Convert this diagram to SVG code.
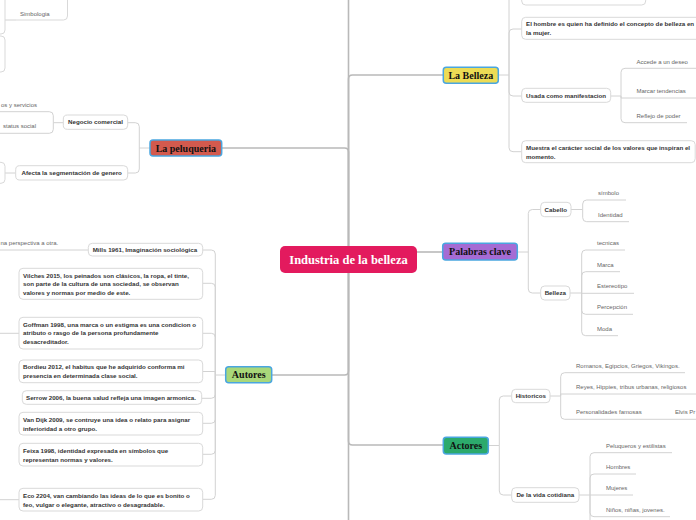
<svg xmlns="http://www.w3.org/2000/svg" width="696" height="520" viewBox="0 0 696 520">
<style>
.c1{fill:none;stroke:#b9b9b9;stroke-width:1.6}
.c2{fill:none;stroke:#d2d2d2;stroke-width:1}
.box{fill:#fff;stroke:#d9d9d9;stroke-width:1}
.topic{stroke:#4aa6e0;stroke-width:1.5}
.tt{font-family:"Liberation Serif",serif;font-weight:bold;font-size:10px;fill:#111;text-anchor:middle}
.bt{font-family:"Liberation Sans",Arial,sans-serif;font-weight:bold;font-size:6.2px;fill:#333}
.btm{font-family:"Liberation Sans",Arial,sans-serif;font-weight:bold;font-size:6.2px;fill:#333;text-anchor:middle}
.lt{font-family:"Liberation Sans",Arial,sans-serif;font-size:6px;fill:#666}
.lte{font-family:"Liberation Sans",Arial,sans-serif;font-size:6px;fill:#666;text-anchor:end}
</style>
<rect width="696" height="520" fill="#fff"/>
<g id="connectors">
<path class="c1" d="M348.5,0 V246 M348.5,273 V520"/>
<path class="c1" d="M348.5,246 V79 Q348.5,75 352.5,75 H443.3"/>
<path class="c1" d="M348.5,273 V441 Q348.5,445 352.5,445 H443.3"/>
<path class="c1" d="M348.5,273 V371 Q348.5,375 344.5,375 H271.7"/>
<path class="c1" d="M348.5,246 V152 Q348.5,148 344.5,148 H221.7"/>
<path class="c1" d="M417,252 H442.7"/>
<!-- La Belleza -->
<path class="c2" d="M498.3,75 H509 M509,75 V0"/>
<path class="c2" d="M509,75 V33 Q509,29 513,29 H521.7"/>
<path class="c2" d="M509,75 V92 Q509,96 513,96 H521.7"/>
<path class="c2" d="M509,75 V147.7 Q509,151.7 513,151.7 H521.7"/>
<path class="c2" d="M610.7,96 H621"/>
<path class="c2" d="M621,96 V72.3 Q621,68.3 625,68.3 H700"/>
<path class="c2" d="M621,96 V98 H700"/>
<path class="c2" d="M621,96 V118.7 Q621,122.7 625,122.7 H687"/>
<!-- Palabras clave -->
<path class="c2" d="M517.3,252 H528.3"/>
<path class="c2" d="M528.3,252 V213.5 Q528.3,209.5 532.3,209.5 H540.7"/>
<path class="c2" d="M528.3,252 V289 Q528.3,293 532.3,293 H540.7"/>
<path class="c2" d="M571,209.5 H582.7"/>
<path class="c2" d="M582.7,209.5 V204 Q582.7,200 586.7,200 H626"/>
<path class="c2" d="M582.7,209.5 V217.7 Q582.7,221.7 586.7,221.7 H629"/>
<path class="c2" d="M570,293 H581.7"/>
<path class="c2" d="M581.7,293 V254 Q581.7,250 585.7,250 H625"/>
<path class="c2" d="M581.7,293 V275.7 Q581.7,271.7 585.7,271.7 H620"/>
<path class="c2" d="M581.7,293.3 H634"/>
<path class="c2" d="M581.7,293 V310.3 Q581.7,314.3 585.7,314.3 H633"/>
<path class="c2" d="M581.7,293 V331.7 Q581.7,335.7 585.7,335.7 H618"/>
<!-- Actores -->
<path class="c2" d="M488.3,445.5 H499.3"/>
<path class="c2" d="M499.3,445.5 V400 Q499.3,396 503.3,396 H511.7"/>
<path class="c2" d="M499.3,445.5 V491 Q499.3,495 503.3,495 H511.7"/>
<path class="c2" d="M550,396 H560.7"/>
<path class="c2" d="M560.7,396 V376.7 Q560.7,372.7 564.7,372.7 H685"/>
<path class="c2" d="M560.7,396 V394 H700"/>
<path class="c2" d="M560.7,396 V415.3 Q560.7,419.3 564.7,419.3 H700"/>
<path class="c2" d="M579,495 H590"/>
<path class="c2" d="M590,495 V456.7 Q590,452.7 594,452.7 H672"/>
<path class="c2" d="M590,495 V478 Q590,474 594,474 H636"/>
<path class="c2" d="M590,495 H633"/>
<path class="c2" d="M590,495 V512.7 Q590,516.7 594,516.7 H670"/>
<path class="c2" d="M590,495 V520"/>
<!-- Autores -->
<path class="c2" d="M225.7,375 H215.3"/>
<path class="c2" d="M215.3,375 V254 Q215.3,250 211.3,250 H202.7"/>
<path class="c2" d="M215.3,375 V287.3 Q215.3,283.3 211.3,283.3 H202.7"/>
<path class="c2" d="M215.3,375 V337.3 Q215.3,333.3 211.3,333.3 H202.7"/>
<path class="c2" d="M215.3,375 V371.5 H202.7"/>
<path class="c2" d="M215.3,375 V394.3 Q215.3,398.3 211.3,398.3 H201.7"/>
<path class="c2" d="M215.3,375 V419.3 Q215.3,423.3 211.3,423.3 H202.7"/>
<path class="c2" d="M215.3,375 V450.3 Q215.3,454.3 211.3,454.3 H202.7"/>
<path class="c2" d="M215.3,375 V495.3 Q215.3,499.3 211.3,499.3 H202.7"/>
<path class="c2" d="M88.3,250 H0"/>
<path class="c2" d="M19,333.3 H0"/>
<path class="c2" d="M19,499.7 H0"/>
<!-- La peluqueria -->
<path class="c2" d="M150,148 H139.3"/>
<path class="c2" d="M139.3,148 V126.7 Q139.3,122.7 135.3,122.7 H127.7"/>
<path class="c2" d="M139.3,148 V169 Q139.3,173 135.3,173 H127.7"/>
<path class="c2" d="M63.3,122.7 H53.3"/>
<path class="c2" d="M53.3,122.7 V115.7 Q53.3,111.7 49.3,111.7 H0"/>
<path class="c2" d="M53.3,122.7 V129.3 Q53.3,133.3 49.3,133.3 H0"/>
<path class="c2" d="M15.7,173 H5"/>
<path class="c2" d="M5,20 H16"/>
</g>
<g id="center">
<rect x="280" y="246" width="137" height="27" rx="5" fill="#E31A5E"/>
<text x="348.5" y="263.8" font-family="Liberation Serif, serif" font-weight="bold" font-size="12.5" fill="#fff" text-anchor="middle">Industria de la belleza</text>
</g>
<g id="la-belleza">
<rect class="topic" x="443.3" y="67.3" width="55" height="16" rx="3" fill="#EDDC55"/>
<text class="tt" x="470.8" y="78.6">La Belleza</text>
</g>
<g id="palabras-clave">
<rect class="topic" x="442.7" y="243.3" width="74.6" height="16.7" rx="3" fill="#A56BD4"/>
<text class="tt" x="480" y="255">Palabras clave</text>
</g>
<g id="actores">
<rect class="topic" x="443.3" y="437.3" width="45" height="16.7" rx="3" fill="#2CAA6C"/>
<text class="tt" x="465.8" y="449">Actores</text>
</g>
<g id="autores">
<rect class="topic" x="225.7" y="366.7" width="46" height="16" rx="3" fill="#A9D87A"/>
<text class="tt" x="248.7" y="378.2">Autores</text>
</g>
<g id="la-peluqueria">
<rect class="topic" x="150" y="140" width="71.7" height="16" rx="3" fill="#D35A4E"/>
<text class="tt" x="185.8" y="151.5">La peluqueria</text>
</g>
<!-- La Belleza children -->
<g id="lb-top"><rect class="box" x="521.7" y="-15" width="124" height="20" rx="4"/></g>
<g id="lb-hombre"><rect class="box" x="521.7" y="17.3" width="180" height="22" rx="4"/>
<text class="bt" x="526" y="26.3">El hombre es quien ha definido el concepto de belleza en</text>
<text class="bt" x="526" y="35.2">la mujer.</text></g>
<g id="lb-usada"><rect class="box" x="521.7" y="88.3" width="89" height="14" rx="4"/>
<text class="bt" x="526" y="97.5">Usada como manifestacion</text></g>
<g id="lb-accede"><text class="lt" x="636.5" y="63.8">Accede a un deseo</text></g>
<g id="lb-marcar"><text class="lt" x="636.5" y="93">Marcar tendencias</text></g>
<g id="lb-reflejo"><text class="lt" x="636.5" y="117.7">Reflejo de poder</text></g>
<g id="lb-muestra"><rect class="box" x="521.7" y="140.7" width="173.5" height="22" rx="4"/>
<text class="bt" x="526" y="149.8">Muestra el carácter social de los valores que inspiran el</text>
<text class="bt" x="526" y="158.6">momento.</text></g>
<!-- Palabras clave children -->
<g id="pc-cabello"><rect class="box" x="540.7" y="202.3" width="30.3" height="14.4" rx="4"/>
<text class="btm" x="555.8" y="211.7">Cabello</text></g>
<g id="pc-simbolo"><text class="lt" x="598" y="195">símbolo</text></g>
<g id="pc-identidad"><text class="lt" x="598" y="216.7">Identidad</text></g>
<g id="pc-belleza"><rect class="box" x="540.7" y="286" width="29.3" height="14" rx="4"/>
<text class="btm" x="555.3" y="295.2">Belleza</text></g>
<g id="pc-tecnicas"><text class="lt" x="597" y="245">tecnicas</text></g>
<g id="pc-marca"><text class="lt" x="597" y="266.7">Marca</text></g>
<g id="pc-estereotipo"><text class="lt" x="597" y="288.3">Estereotipo</text></g>
<g id="pc-percepcion"><text class="lt" x="597" y="309.3">Percepción</text></g>
<g id="pc-moda"><text class="lt" x="597" y="330.7">Moda</text></g>
<!-- Actores children -->
<g id="ac-historicos"><rect class="box" x="511.7" y="389.3" width="38.3" height="13.4" rx="4"/>
<text class="btm" x="530.8" y="398.2">Historicos</text></g>
<g id="ac-romanos"><text class="lt" x="576" y="367.7">Romanos, Egipcios, Griegos, Vikingos.</text></g>
<g id="ac-reyes"><text class="lt" x="576" y="389">Reyes, Hippies, tribus urbanas, religiosos</text></g>
<g id="ac-personalidades"><text class="lt" x="576" y="414.3">Personalidades famosas</text></g>
<g id="ac-elvis"><text class="lt" x="675" y="414.3">Elvis Pr</text></g>
<g id="ac-vida"><rect class="box" x="511.7" y="487.7" width="67.3" height="14.6" rx="4"/>
<text class="btm" x="545.3" y="497.3">De la vida cotidiana</text></g>
<g id="ac-peluqueros"><text class="lt" x="606" y="447.7">Peluqueros y estilistas</text></g>
<g id="ac-hombres"><text class="lt" x="606" y="469">Hombres</text></g>
<g id="ac-mujeres"><text class="lt" x="606" y="490">Mujeres</text></g>
<g id="ac-ninos"><text class="lt" x="606" y="511.7">Niños, niñas, jovenes.</text></g>
<!-- Autores children -->
<g id="au-mills"><rect class="box" x="88.3" y="243.3" width="114.4" height="12.7" rx="4"/>
<text class="bt" x="92.7" y="251.9">Mills 1961, Imaginación sociológica</text></g>
<g id="au-mills-leaf"><text class="lt" x="0.5" y="245">na perspectiva a otra.</text></g>
<g id="au-vilches"><rect class="box" x="19" y="268.3" width="183.7" height="31" rx="4"/>
<text class="bt" x="23" y="277.5">Vilches 2015, los peinados son clásicos, la ropa, el tinte,</text>
<text class="bt" x="23" y="286.2">son parte de la cultura de una sociedad, se observan</text>
<text class="bt" x="23" y="294.9">valores y normas por medio de este.</text></g>
<g id="au-goffman"><rect class="box" x="19" y="317.3" width="183.7" height="31.7" rx="4"/>
<text class="bt" x="23" y="326.5">Goffman 1998, una marca o un estigma es una condicion o</text>
<text class="bt" x="23" y="335.3">atributo o rasgo de la persona profundamente</text>
<text class="bt" x="23" y="344.1">desacreditador.</text></g>
<g id="au-bordieu"><rect class="box" x="19" y="360" width="183.7" height="22.7" rx="4"/>
<text class="bt" x="23" y="369">Bordieu 2012, el habitus que he adquirido conforma mi</text>
<text class="bt" x="23" y="377.5">presencia en determinada clase social.</text></g>
<g id="au-serrow"><rect class="box" x="22.3" y="390.7" width="179.4" height="13.6" rx="4"/>
<text class="bt" x="26" y="399.8">Serrow 2006, la buena salud refleja una imagen armonica.</text></g>
<g id="au-vandijk"><rect class="box" x="19" y="412.3" width="183.7" height="22.7" rx="4"/>
<text class="bt" x="23" y="421.8">Van Dijk 2009, se contruye una idea o relato para asignar</text>
<text class="bt" x="23" y="430.6">inferioridad a otro grupo.</text></g>
<g id="au-feixa"><rect class="box" x="19" y="443.3" width="183.7" height="22.7" rx="4"/>
<text class="bt" x="23" y="452.8">Feixa 1998, identidad expresada en símbolos que</text>
<text class="bt" x="23" y="461.5">representan normas y valores.</text></g>
<g id="au-eco"><rect class="box" x="19" y="488.3" width="183.7" height="22.7" rx="4"/>
<text class="bt" x="23" y="497.9">Eco 2204,  van cambiando las ideas de lo que es bonito o</text>
<text class="bt" x="23" y="506.6">feo, vulgar o elegante, atractivo o desagradable.</text></g>
<!-- La peluqueria children -->
<g id="pe-negocio"><rect class="box" x="63.3" y="115" width="64.4" height="14.3" rx="4"/>
<text class="btm" x="95.5" y="124.4">Negocio comercial</text></g>
<g id="pe-servicios"><text class="lte" x="37" y="106.5">os y servicios</text></g>
<g id="pe-status"><text class="lte" x="36" y="128.3">status social</text></g>
<g id="pe-afecta"><rect class="box" x="15.7" y="165.7" width="112" height="14.3" rx="4"/>
<text class="btm" x="71.7" y="175.1">Afecta la segmentación de genero</text></g>
<g id="pe-offscreen"><path class="box" fill="none" d="M0,162.3 H1 Q5,162.3 5,166.3 V179.3 Q5,183.3 1,183.3 H0"/></g>
<!-- top-left partial nodes -->
<g id="tl-box1"><path class="box" fill="none" d="M0,34 H1 Q5,34 5,30 V0"/></g>
<g id="tl-box2"><path class="box" fill="none" d="M0,36 H1 Q5,36 5,40 V68 Q5,72 1,72 H0"/></g>
<g id="tl-simbologia"><path class="box" fill="none" d="M67.5,0 V16 Q67.5,20 63.5,20 H16"/>
<text class="lt" x="20" y="15.8">Simbologia</text></g>
</svg>
